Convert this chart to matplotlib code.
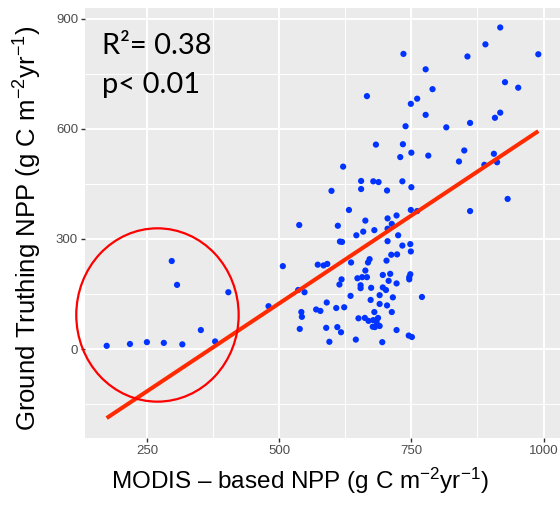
import numpy as np
import matplotlib.pyplot as plt
from matplotlib.patches import Ellipse

plt.rcParams['font.family'] = ['Liberation Sans', 'DejaVu Sans']
plt.rcParams['mathtext.fontset'] = 'custom'
plt.rcParams['mathtext.rm'] = 'Liberation Sans'
plt.rcParams['mathtext.it'] = 'Liberation Sans:italic'

# MODIS NPP vs ground truthing NPP
modis_npp = [174, 218, 250, 282, 317, 352, 379, 297, 307, 404, 480, 507,
             538, 611, 615, 619, 632, 646, 659, 663, 680, 705, 713, 705, 722, 725, 705, 733, 748, 749, 761,
             599, 621, 655, 655, 678, 688, 704, 733, 750, 683, 734, 729, 750, 782, 739, 666, 749, 761, 777, 790, 777, 735,
             816, 861, 850, 840, 888, 906, 912, 932, 861, 908, 918, 927, 952, 856, 890, 918, 990,
             573, 584, 591, 712, 723, 749, 703, 636, 668, 671, 663, 648, 657, 666, 696, 710, 707, 722, 748, 746, 746,
             654, 654, 618, 614, 536, 548, 674, 696, 702, 690, 635, 673, 715, 770, 590, 608, 623, 570, 578, 542, 543,
             690, 704, 713, 680, 650, 662, 669, 687, 678, 684, 677, 681, 690, 685, 539, 589, 610, 617, 645, 595, 695, 722, 745, 751]
ground_npp = [9, 14, 19, 17, 13, 52, 21, 240, 175, 155, 117, 226,
              338, 336, 293, 292, 379, 310, 320, 350, 324, 356, 341, 328, 364, 310, 294, 282, 286, 379, 376,
              431, 497, 458, 436, 457, 455, 432, 457, 441, 557, 558, 523, 535, 527, 607, 689, 668, 682, 638, 708, 762, 804,
              604, 616, 541, 511, 502, 532, 509, 409, 376, 630, 644, 727, 712, 797, 830, 876, 803,
              230, 228, 232, 257, 258, 266, 241, 236, 236, 245, 214, 193, 196, 196, 202, 205, 186, 179, 204, 196, 190,
              174, 166, 190, 176, 161, 155, 167, 168, 161, 147, 145, 134, 141, 142, 127, 112, 114, 108, 104, 101, 88,
              123, 119, 101, 101, 84, 85, 77, 85, 79, 76, 61, 60, 63, 68, 55, 58, 60, 46, 26, 20, 19, 52, 37, 33]

x_ticks = [250, 500, 750, 1000]
y_ticks = [0, 300, 600, 900]

# outlier circle (centre, width, height in data units)
circle_xy = (270, 93)
circle_w = 307
circle_h = 472

x = np.array(modis_npp, dtype=float)
y = np.array(ground_npp, dtype=float)
slope, intercept = np.polyfit(x, y, 1)
xfit = np.array([x.min(), x.max()])

fig = plt.figure(figsize=(5.6, 5.05), dpi=100)
ax = fig.add_axes([85/560, 1 - 438/505, 475/560, 430/505])
ax.set_facecolor('#EBEBEB')
for s in ax.spines.values():
    s.set_visible(False)

ax.set_xlim(133, 1031)
ax.set_ylim(-242, 929)
ax.set_xticks(x_ticks)
ax.set_yticks(y_ticks)
ax.set_xticks([375, 625, 875], minor=True)
ax.set_yticks([-150, 150, 450, 750], minor=True)
ax.grid(which='major', color='white', linewidth=1.4)
ax.grid(which='minor', color='white', linewidth=0.7)
ax.set_axisbelow(True)
ax.tick_params(which='major', length=3, width=1, color='#333333', labelcolor='#4D4D4D', labelsize=9.5, pad=2)
ax.tick_params(which='minor', length=0)

ax.scatter(x, y, s=20, color='#0033FF', edgecolors='none', zorder=3)
ax.plot(xfit, slope * xfit + intercept, color='#FF2A00', linewidth=2.9, solid_capstyle='butt', zorder=4)

ell = Ellipse(circle_xy, circle_w, circle_h, fill=False, edgecolor='#FF0000', linewidth=1.6, clip_on=False, zorder=5)
ax.add_patch(ell)

ax.text(0.035, 0.912, 'R²= 0.38', transform=ax.transAxes, fontsize=21, family=['Lato', 'DejaVu Sans'],
        va='center', ha='left')
ax.text(0.035, 0.822, 'p< 0.01', transform=ax.transAxes, fontsize=21, family=['Lato', 'DejaVu Sans'],
        va='center', ha='left')

ax.set_xlabel('MODIS – based NPP (g C m$^{-2}$yr$^{-1}$)', fontsize=17.5, color='black')
ax.set_ylabel('Ground Truthing NPP (g C m$^{-2}$yr$^{-1}$)', fontsize=18.5, color='black')
ax.xaxis.set_label_coords(0.453, -0.065)
ax.yaxis.set_label_coords(-0.086, 0.488)

fig.savefig('out.png', dpi=100)
